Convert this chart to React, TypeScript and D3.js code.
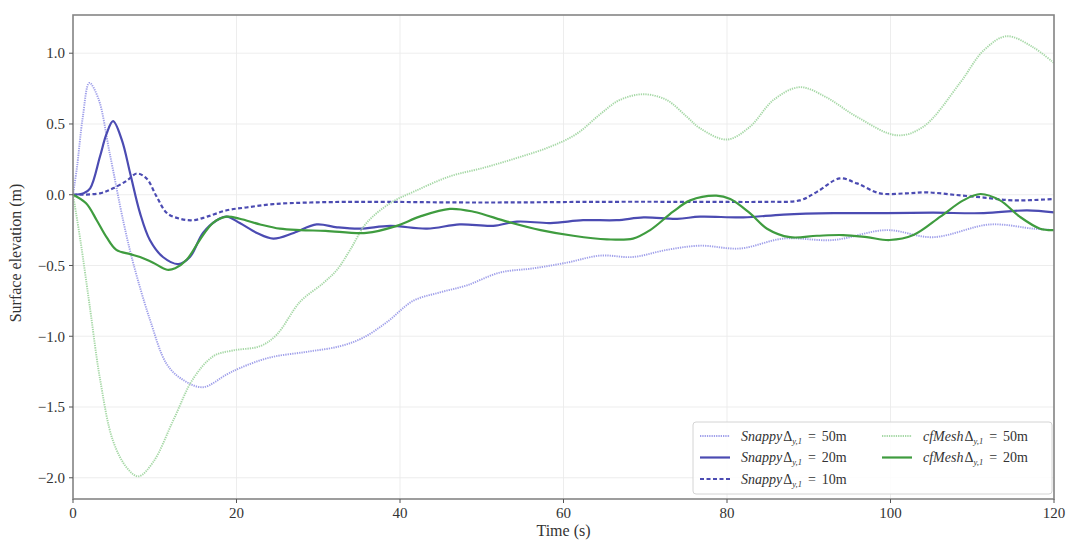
import * as d3 from 'd3'

const snappy50T = [0, 0.5, 1.2, 2, 3.1, 4.5, 6.2, 7.4, 9.4, 11.5, 13.5, 15.9, 18.8, 20.4, 24.1, 28.6, 32.7, 35.5, 38.4, 41.6, 44.9, 48.2, 52.2, 56.3, 60.4, 64.5, 68.5, 72.6, 76.7, 81.6, 86.9, 93, 99.5, 105.2, 112.2, 117.5, 120]
const snappy50V = [0, 0.2, 0.55, 0.79, 0.68, 0.29, -0.2, -0.49, -0.88, -1.2, -1.31, -1.36, -1.27, -1.225, -1.15, -1.11, -1.07, -1.01, -0.9, -0.75, -0.69, -0.64, -0.55, -0.52, -0.48, -0.43, -0.44, -0.39, -0.36, -0.38, -0.31, -0.32, -0.25, -0.3, -0.21, -0.24, -0.25]

const snappy20T = [0, 1.3, 2.1, 3.3, 4.1, 4.9, 5.96, 7, 8.2, 9.4, 11, 12.9, 14.3, 15.9, 17.6, 18.8, 20.4, 22.5, 24.5, 27, 29.8, 32.3, 35.1, 38.8, 43.3, 47.3, 51.4, 54.3, 58.4, 62.4, 66.5, 69.8, 73.9, 76.7, 82, 86.9, 93, 99.5, 105.2, 111.4, 116.7, 120]
const snappy20V = [0, 0.01, 0.045, 0.27, 0.43, 0.52, 0.39, 0.15, -0.13, -0.32, -0.44, -0.49, -0.44, -0.27, -0.18, -0.155, -0.2, -0.27, -0.31, -0.27, -0.21, -0.23, -0.24, -0.22, -0.24, -0.21, -0.22, -0.19, -0.2, -0.18, -0.18, -0.16, -0.17, -0.155, -0.16, -0.14, -0.13, -0.13, -0.127, -0.13, -0.11, -0.125]

const snappy10T = [0, 3.3, 4.9, 6.6, 7.8, 9, 10.2, 11.5, 13.1, 14.7, 16.4, 18.8, 21.2, 24.5, 29, 35, 50, 65, 76.7, 85, 88.9, 91, 93.8, 95.9, 98.7, 102, 104.4, 107.7, 111.4, 115, 120]
const snappy10V = [0, 0.01, 0.045, 0.1, 0.15, 0.115, -0.01, -0.13, -0.17, -0.18, -0.155, -0.11, -0.09, -0.066, -0.055, -0.05, -0.055, -0.05, -0.05, -0.05, -0.04, 0.02, 0.115, 0.08, 0.01, 0.01, 0.017, 0, -0.02, -0.04, -0.03]

const cfmesh50T = [0, 0.9, 2.1, 3.3, 4.9, 6.6, 8, 9.8, 12.3, 14.7, 17.2, 19.6, 22.9, 24.9, 27.8, 30.6, 32.3, 33.9, 35.9, 38.8, 42, 46.1, 50.2, 54.3, 58.4, 61.6, 64.5, 66.9, 69.8, 72.6, 75.1, 76.7, 80, 82.8, 85.7, 88.9, 92.1, 95.9, 100.8, 104, 108.5, 111.4, 114.2, 117.5, 120]
const cfmesh50V = [0, -0.32, -0.81, -1.3, -1.74, -1.93, -1.99, -1.89, -1.59, -1.3, -1.14, -1.1, -1.07, -0.99, -0.755, -0.625, -0.53, -0.39, -0.2, -0.06, 0.03, 0.13, 0.19, 0.26, 0.34, 0.43, 0.57, 0.67, 0.71, 0.67, 0.55, 0.47, 0.39, 0.48, 0.67, 0.76, 0.69, 0.55, 0.42, 0.48, 0.79, 1.02, 1.12, 1.04, 0.93]

const cfmesh20T = [0, 1.6, 2.9, 4.1, 5.3, 7, 8.2, 9.8, 11.5, 12.5, 13.9, 15.5, 17.1, 18.8, 20.4, 22.9, 25.3, 27.8, 30.9, 35.9, 39.6, 42.4, 46.1, 49, 53.1, 57.2, 61.2, 65.3, 68.5, 70.6, 73.4, 75.5, 78.7, 80.4, 82.8, 84.9, 87.7, 91, 94.2, 97.1, 99.9, 102.8, 106.1, 108.9, 111, 113.4, 115.8, 118.3, 120]
const cfmesh20V = [0, -0.06, -0.18, -0.3, -0.39, -0.42, -0.44, -0.48, -0.53, -0.52, -0.46, -0.32, -0.2, -0.155, -0.17, -0.21, -0.24, -0.25, -0.255, -0.27, -0.22, -0.155, -0.1, -0.12, -0.19, -0.25, -0.29, -0.315, -0.31, -0.25, -0.12, -0.04, -0.007, -0.03, -0.13, -0.24, -0.3, -0.29, -0.285, -0.3, -0.32, -0.285, -0.155, -0.04, 0.005, -0.04, -0.155, -0.24, -0.25]

const xTicks = [0, 20, 40, 60, 80, 100, 120]
const yTicks = [-2.0, -1.5, -1.0, -0.5, 0.0, 0.5, 1.0]

const series = [
  { name: 'Snappy', dx: '50m', t: snappy50T, v: snappy50V, color: '#a0a0ea', width: 1.9, dash: '1.3,1', col: 0, row: 0 },
  { name: 'Snappy', dx: '20m', t: snappy20T, v: snappy20V, color: '#4b4bb2', width: 2.2, dash: null, col: 0, row: 1 },
  { name: 'Snappy', dx: '10m', t: snappy10T, v: snappy10V, color: '#4b4bb2', width: 2.2, dash: '4,2.5', col: 0, row: 2 },
  { name: 'cfMesh', dx: '50m', t: cfmesh50T, v: cfmesh50V, color: '#a6d8a6', width: 1.9, dash: '1.3,1', col: 1, row: 0 },
  { name: 'cfMesh', dx: '20m', t: cfmesh20T, v: cfmesh20V, color: '#3f9c3f', width: 2.2, dash: null, col: 1, row: 1 },
]

const W = 1066
const H = 540
const m = { left: 73, right: 12, top: 15, bottom: 41 }
const font = '"Liberation Serif", "DejaVu Serif", serif'

export default function App() {
  const x = d3.scaleLinear().domain([0, 120]).range([m.left, W - m.right])
  const y = d3.scaleLinear().domain([-2.15, 1.27]).range([H - m.bottom, m.top])
  const fmt = (d: number) => d3.format('.1f')(d).replace('-', '\u2212')

  const line = d3.line<[number, number]>()
    .x((d) => x(d[0]))
    .y((d) => y(d[1]))
    .curve(d3.curveCatmullRom.alpha(0.5))

  const legX = [700, 882]
  const legY = [436, 457.5, 479]

  return (
    <svg width={W} height={H} style={{ position: 'absolute', left: 0, top: 0, background: '#fff' }} fontFamily={font}>
      <defs>
        <clipPath id="plot">
          <rect x={m.left} y={m.top} width={W - m.left - m.right} height={H - m.top - m.bottom} />
        </clipPath>
      </defs>
      {/* grid */}
      <g stroke="#ebebeb" strokeWidth={0.9}>
        {xTicks.map((t) => <line key={'gx' + t} x1={x(t)} x2={x(t)} y1={m.top} y2={H - m.bottom} />)}
        {yTicks.map((t) => <line key={'gy' + t} x1={m.left} x2={W - m.right} y1={y(t)} y2={y(t)} />)}
      </g>
      <g clipPath="url(#plot)" fill="none">
        {series.map((s, i) => (
          <path key={i} d={line(s.t.map((t, j) => [t, s.v[j]]) as [number, number][]) || ''}
            stroke={s.color} strokeWidth={s.width} strokeDasharray={s.dash || undefined} />
        ))}
      </g>
      {/* frame */}
      <rect x={m.left} y={m.top} width={W - m.left - m.right} height={H - m.top - m.bottom}
        fill="none" stroke="#858585" strokeWidth={1.6} />
      {/* ticks */}
      <g stroke="#555" strokeWidth={1}>
        {xTicks.map((t) => <line key={'tx' + t} x1={x(t)} x2={x(t)} y1={H - m.bottom} y2={H - m.bottom + 4} />)}
        {yTicks.map((t) => <line key={'ty' + t} x1={m.left - 4} x2={m.left} y1={y(t)} y2={y(t)} />)}
      </g>
      <g fill="#333" fontSize={15}>
        {xTicks.map((t) => (
          <text key={'lx' + t} x={x(t)} y={H - m.bottom + 19} textAnchor="middle">{t}</text>
        ))}
        {yTicks.map((t) => (
          <text key={'ly' + t} x={m.left - 8} y={y(t)} dy="0.35em" textAnchor="end">{fmt(t)}</text>
        ))}
        <text x={(m.left + W - m.right) / 2} y={536} textAnchor="middle" fontSize={16}>Time (s)</text>
        <text transform={`translate(21,${(m.top + H - m.bottom) / 2 - 4}) rotate(-90)`} textAnchor="middle" fontSize={16}>Surface elevation (m)</text>
      </g>
      {/* legend */}
      <rect x={693} y={422} width={359} height={72} rx={3} fill="#fff" fillOpacity={0.85} stroke="#d4d4d4" strokeWidth={1} />
      {series.map((s, i) => {
        const lx = legX[s.col]
        const ly = legY[s.row]
        return (
          <g key={'lg' + i}>
            <line x1={lx} x2={lx + 30} y1={ly} y2={ly} stroke={s.color} strokeWidth={s.width} strokeDasharray={s.dash || undefined} />
            <text x={lx + 41} y={ly} dy="0.35em" fontSize={14} fill="#333">
              <tspan fontStyle="italic">{s.name}</tspan>
              <tspan dx={1}>Δ</tspan>
              <tspan fontSize={8.5} fontStyle="italic" dy={3}>y,1</tspan>
              <tspan dy={-3} dx={6}>=</tspan>
              <tspan dx={6}>{s.dx}</tspan>
            </text>
          </g>
        )
      })}
    </svg>
  )
}
